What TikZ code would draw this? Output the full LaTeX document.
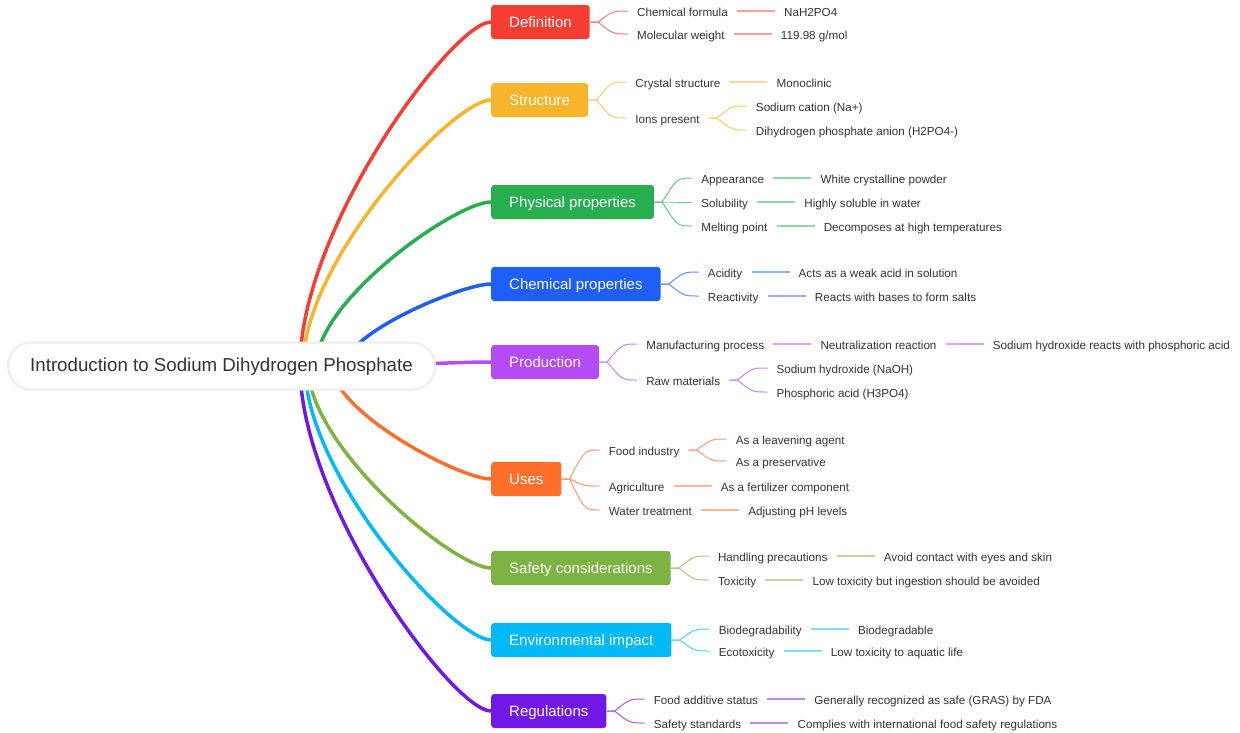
\documentclass[tikz,border=0pt]{standalone}
\usepackage{fontspec}
\setmainfont{Liberation Sans}
\usetikzlibrary{positioning,calc,backgrounds}

\definecolor{cDef}{HTML}{F53E31}
\definecolor{cStruc}{HTML}{F7B52C}
\definecolor{cPhys}{HTML}{27AE4F}
\definecolor{cChem}{HTML}{1F5FF9}
\definecolor{cProd}{HTML}{B54BF5}
\definecolor{cUses}{HTML}{FF6F2C}
\definecolor{cSafe}{HTML}{7DB342}
\definecolor{cEnv}{HTML}{00BAF7}
\definecolor{cReg}{HTML}{7118E6}
\definecolor{ink}{HTML}{333333}

\newcommand{\forkto}[3]{\draw[fork=#1] (#2.east) -- ++(8,0) .. controls ([xshift=-15pt]#3.west) .. (#3.west);}

\begin{document}
\begin{tikzpicture}
      [x=1pt,y=-1pt,
      root/.style={draw=gray!15,line width=2pt,fill=white,rounded corners=23pt,minimum width=427pt,minimum height=47pt,text=ink,text height=13pt,text depth=2pt,font=\fontsize{18.7}{22}\selectfont},
      topic/.style={fill=#1,rounded corners=3pt,anchor=west,text=white,inner xsep=18pt,minimum height=34pt,text height=12pt,text depth=2pt,font=\fontsize{15}{18}\selectfont},
      leaf/.style={inner xsep=9pt,inner ysep=2pt,text=ink,text height=11pt,text depth=1pt,font=\fontsize{11.65}{14}\selectfont},
      trunk/.style={draw=#1,line width=3.5pt,line cap=round},
      fork/.style={draw=#1!70!white,line width=1pt},
      twig/.style={draw=#1!50!white,line width=1.5pt}]
     \useasboundingbox (0,0) rectangle (1240,732);
     \node[root] (root) at (221.5,366) {Introduction to Sodium Dihydrogen Phosphate};
     % main topics
     \node[topic=cDef] (def) at (491,22) {Definition};
     \node[topic=cStruc] (struc) at (491,100) {Structure};
     \node[topic=cPhys] (phys) at (491,202) {Physical properties};
     \node[topic=cChem] (chem) at (491,284) {Chemical properties};
     \node[topic=cProd] (prod) at (491,362) {Production};
     \node[topic=cUses] (uses) at (491,479) {Uses};
     \node[topic=cSafe] (safe) at (491,568) {Safety considerations};
     \node[topic=cEnv] (env) at (491,640) {Environmental impact};
     \node[topic=cReg] (reg) at (491,711) {Regulations};
     % definition
     \node[leaf,right=38pt of def,yshift=11pt] (def1) {Chemical formula};
     \node[leaf,right=38pt of def1] (def1a) {NaH2PO4};
     \node[leaf,right=38pt of def,yshift=-12pt] (def2) {Molecular weight};
     \node[leaf,right=38pt of def2] (def2a) {119.98 g/mol};
     \forkto{cDef}{def}{def1} \forkto{cDef}{def}{def2}
     \draw[twig=cDef] (def1) -- (def1a);
     \draw[twig=cDef] (def2) -- (def2a);
     % structure
     \node[leaf,right=38pt of struc,yshift=18pt] (struc1) {Crystal structure};
     \node[leaf,right=38pt of struc1] (struc1a) {Monoclinic};
     \node[leaf,right=38pt of struc,yshift=-18pt] (struc2) {Ions present};
     \node[leaf,right=38pt of struc2,yshift=12pt] (struc2a) {Sodium cation (Na+)};
     \node[leaf,right=38pt of struc2,yshift=-12pt] (struc2b) {Dihydrogen phosphate anion (H2PO4-)};
     \forkto{cStruc}{struc}{struc1} \forkto{cStruc}{struc}{struc2}
     \forkto{cStruc}{struc2}{struc2a} \forkto{cStruc}{struc2}{struc2b}
     \draw[twig=cStruc] (struc1) -- (struc1a);
     % physical properties
     \node[leaf,right=38pt of phys,yshift=24pt] (phys1) {Appearance};
     \node[leaf,right=38pt of phys1] (phys1a) {White crystalline powder};
     \node[leaf,right=38pt of phys] (phys2) {Solubility};
     \node[leaf,right=38pt of phys2] (phys2a) {Highly soluble in water};
     \node[leaf,right=38pt of phys,yshift=-24pt] (phys3) {Melting point};
     \node[leaf,right=38pt of phys3] (phys3a) {Decomposes at high temperatures};
     \forkto{cPhys}{phys}{phys1} \forkto{cPhys}{phys}{phys2} \forkto{cPhys}{phys}{phys3}
     \draw[twig=cPhys] (phys1) -- (phys1a);
     \draw[twig=cPhys] (phys2) -- (phys2a);
     \draw[twig=cPhys] (phys3) -- (phys3a);
     % chemical properties
     \node[leaf,right=38pt of chem,yshift=12pt] (chem1) {Acidity};
     \node[leaf,right=38pt of chem1] (chem1a) {Acts as a weak acid in solution};
     \node[leaf,right=38pt of chem,yshift=-12pt] (chem2) {Reactivity};
     \node[leaf,right=38pt of chem2] (chem2a) {Reacts with bases to form salts};
     \forkto{cChem}{chem}{chem1} \forkto{cChem}{chem}{chem2}
     \draw[twig=cChem] (chem1) -- (chem1a);
     \draw[twig=cChem] (chem2) -- (chem2a);
     % production
     \node[leaf,right=38pt of prod,yshift=18pt] (prod1) {Manufacturing process};
     \node[leaf,right=38pt of prod1] (prod1a) {Neutralization reaction};
     \node[leaf,right=38pt of prod1a] (prod1b) {Sodium hydroxide reacts with phosphoric acid};
     \node[leaf,right=38pt of prod,yshift=-18pt] (prod2) {Raw materials};
     \node[leaf,right=38pt of prod2,yshift=12pt] (prod2a) {Sodium hydroxide (NaOH)};
     \node[leaf,right=38pt of prod2,yshift=-12pt] (prod2b) {Phosphoric acid (H3PO4)};
     \forkto{cProd}{prod}{prod1} \forkto{cProd}{prod}{prod2}
     \forkto{cProd}{prod2}{prod2a} \forkto{cProd}{prod2}{prod2b}
     \draw[twig=cProd] (prod1) -- (prod1a);
     \draw[twig=cProd] (prod1a) -- (prod1b);
     % uses
     \node[leaf,right=38pt of uses,yshift=29pt] (uses1) {Food industry};
     \node[leaf,right=38pt of uses1,yshift=11pt] (uses1a) {As a leavening agent};
     \node[leaf,right=38pt of uses1,yshift=-11pt] (uses1b) {As a preservative};
     \node[leaf,right=38pt of uses,yshift=-7pt] (uses2) {Agriculture};
     \node[leaf,right=38pt of uses2] (uses2a) {As a fertilizer component};
     \node[leaf,right=38pt of uses,yshift=-31pt] (uses3) {Water treatment};
     \node[leaf,right=38pt of uses3] (uses3a) {Adjusting pH levels};
     \forkto{cUses}{uses}{uses1} \forkto{cUses}{uses}{uses2} \forkto{cUses}{uses}{uses3}
     \forkto{cUses}{uses1}{uses1a} \forkto{cUses}{uses1}{uses1b}
     \draw[twig=cUses] (uses2) -- (uses2a);
     \draw[twig=cUses] (uses3) -- (uses3a);
     % safety
     \node[leaf,right=38pt of safe,yshift=12pt] (safe1) {Handling precautions};
     \node[leaf,right=38pt of safe1] (safe1a) {Avoid contact with eyes and skin};
     \node[leaf,right=38pt of safe,yshift=-12pt] (safe2) {Toxicity};
     \node[leaf,right=38pt of safe2] (safe2a) {Low toxicity but ingestion should be avoided};
     \forkto{cSafe}{safe}{safe1} \forkto{cSafe}{safe}{safe2}
     \draw[twig=cSafe] (safe1) -- (safe1a);
     \draw[twig=cSafe] (safe2) -- (safe2a);
     % environment
     \node[leaf,right=38pt of env,yshift=11pt] (env1) {Biodegradability};
     \node[leaf,right=38pt of env1] (env1a) {Biodegradable};
     \node[leaf,right=38pt of env,yshift=-11pt] (env2) {Ecotoxicity};
     \node[leaf,right=38pt of env2] (env2a) {Low toxicity to aquatic life};
     \forkto{cEnv}{env}{env1} \forkto{cEnv}{env}{env2}
     \draw[twig=cEnv] (env1) -- (env1a);
     \draw[twig=cEnv] (env2) -- (env2a);
     % regulations
     \node[leaf,right=38pt of reg,yshift=12pt] (reg1) {Food additive status};
     \node[leaf,right=38pt of reg1] (reg1a) {Generally recognized as safe (GRAS) by FDA};
     \node[leaf,right=38pt of reg,yshift=-12pt] (reg2) {Safety standards};
     \node[leaf,right=38pt of reg2] (reg2a) {Complies with international food safety regulations};
     \forkto{cReg}{reg}{reg1} \forkto{cReg}{reg}{reg2}
     \draw[twig=cReg] (reg1) -- (reg1a);
     \draw[twig=cReg] (reg2) -- (reg2a);
     % trunks behind the root
     \begin{scope}[on background layer]
       \coordinate (tdef) at (300,366);
       \coordinate (tstruc) at (303,366);
       \coordinate (tphys) at (316,366);
       \coordinate (tchem) at (345,366);
       \coordinate (tprod) at (330,366);
       \coordinate (tuses) at (332,366);
       \coordinate (tsafe) at (308,366);
       \coordinate (tenv) at (305,366);
       \coordinate (treg) at (300,366);
       \draw[trunk=cDef] (tdef) .. controls (300,228) and (453,22) .. (def.west);
       \draw[trunk=cStruc] (tstruc) .. controls (303,260) and (453,100) .. (struc.west);
       \draw[trunk=cPhys] (tphys) .. controls (316,300) and (456,202) .. (phys.west);
       \draw[trunk=cChem] (tchem) .. controls (345,333) and (462,284) .. (chem.west);
       \draw[trunk=cProd] (tprod) .. controls (400,366) and (450,362) .. (prod.west);
       \draw[trunk=cUses] (tuses) .. controls (332,411) and (459,479) .. (uses.west);
       \draw[trunk=cSafe] (tsafe) .. controls (308,447) and (454,568) .. (safe.west);
       \draw[trunk=cEnv] (tenv) .. controls (305,476) and (454,640) .. (env.west);
       \draw[trunk=cReg] (treg) .. controls (300,504) and (453,711) .. (reg.west);
     \end{scope}
    \end{tikzpicture}
\end{document}
